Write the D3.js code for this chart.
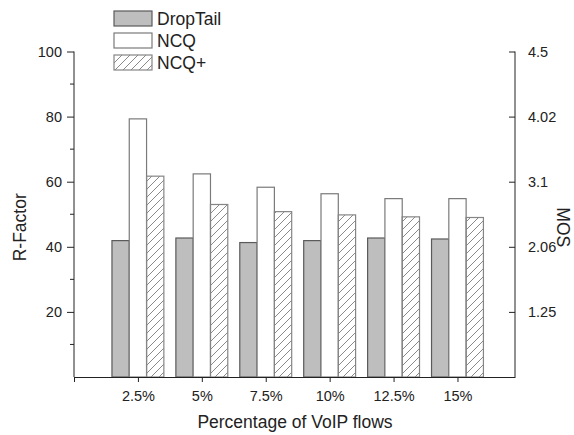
<!DOCTYPE html>
<html>
<head>
<meta charset="utf-8">
<script src="https://cdn.jsdelivr.net/npm/d3@7"></script>
<style>
  body { margin: 0; background: #fff; }
  svg { display: block; font-family: "Liberation Sans", Arial, sans-serif; }
  .axis path, .axis line { stroke: #222; }
  .axis text { font-size: 14.5px; fill: #222; }
</style>
</head>
<body>
<svg id="canvas" width="574" height="435"></svg>
<script>
let categories = ['2.5%', '5%', '7.5%', '10%', '12.5%', '15%'];
let seriesNames = ['DropTail', 'NCQ', 'NCQ+'];
let dropTail = [41.9, 42.7, 41.3, 41.9, 42.7, 42.4];
let ncq = [79.3, 62.4, 58.3, 56.3, 54.8, 54.8];
let ncqPlus = [61.7, 53.0, 50.8, 49.8, 49.2, 49.0];
let leftTicks = [20, 40, 60, 80, 100];
let leftMinor = [10, 30, 50, 70, 90];
let mosLabels = ['1.25', '2.06', '3.1', '4.02', '4.5'];

let svg = d3.select('#canvas');

// hatch for NCQ+
let defs = svg.append('defs');
defs.append('pattern')
    .attr('id', 'hatch')
    .attr('patternUnits', 'userSpaceOnUse')
    .attr('width', 8)
    .attr('height', 8)
    .append('path')
    .attr('d', 'M-2,2 L2,-2 M0,8 L8,0 M6,10 L10,6')
    .attr('stroke', '#8a8a8a')
    .attr('stroke-width', 1);

let x = d3.scaleLinear().domain([0, 6.9]).range([74, 515]);
let y = d3.scaleLinear().domain([0, 100]).range([377, 51.5]);

let barW = 17.3;
let styles = [
    { fill: '#bebebe', stroke: '#5a5a5a' },
    { fill: '#ffffff', stroke: '#7a7a7a' },
    { fill: 'url(#hatch)', stroke: '#858585' }
];
let series = [dropTail, ncq, ncqPlus];

series.forEach((vals, s) => {
    svg.append('g')
       .selectAll('rect')
       .data(vals)
       .enter()
       .append('rect')
       .attr('x', (d, i) => x(i + 1) + (s - 1.5) * barW)
       .attr('y', (d) => y(d))
       .attr('width', barW)
       .attr('height', (d) => y(0) - y(d))
       .attr('fill', styles[s].fill)
       .attr('stroke', styles[s].stroke)
       .attr('stroke-width', 1.2);
});

// x axis
let xAxis = d3.axisBottom(x)
    .tickValues([0, 1, 2, 3, 4, 5, 6])
    .tickFormat((d) => d === 0 ? '' : categories[d - 1])
    .tickSizeInner(5)
    .tickSizeOuter(0);
let gx = svg.append('g')
    .attr('class', 'axis')
    .attr('transform', 'translate(0,' + y(0) + ')')
    .call(xAxis);
gx.selectAll('text').attr('dy', '1.1em');

// left axis
let yAxis = d3.axisLeft(y)
    .tickValues(leftTicks)
    .tickSizeInner(7)
    .tickSizeOuter(0)
    .tickPadding(5);
svg.append('g')
   .attr('class', 'axis')
   .attr('transform', 'translate(' + x(0) + ',0)')
   .call(yAxis)
   .call((g) => g.select('.domain').attr('d', 'M0,' + y(0) + 'V' + y(100)));

svg.append('g')
   .selectAll('line')
   .data(leftMinor)
   .enter()
   .append('line')
   .attr('x1', x(0) - 4)
   .attr('x2', x(0))
   .attr('y1', (d) => y(d))
   .attr('y2', (d) => y(d))
   .attr('stroke', '#222');

// right axis (MOS labels at matching R-factor)
let yRight = d3.axisRight(y)
    .tickValues(leftTicks)
    .tickFormat((d, i) => mosLabels[i])
    .tickSizeInner(-6)
    .tickSizeOuter(0)
    .tickPadding(13);
svg.append('g')
   .attr('class', 'axis')
   .attr('transform', 'translate(' + x(6.9) + ',0)')
   .call(yRight)
   .call((g) => g.select('.domain').attr('d', 'M0,' + y(0) + 'V' + y(100)));

// axis titles
svg.append('text')
   .attr('transform', 'translate(26,' + y(46) + ') rotate(-90)')
   .attr('text-anchor', 'middle')
   .style('font-size', '17.5px')
   .attr('fill', '#222')
   .text('R-Factor');

svg.append('text')
   .attr('transform', 'translate(557,' + y(46) + ') rotate(90)')
   .attr('text-anchor', 'middle')
   .style('font-size', '17.5px')
   .attr('fill', '#222')
   .text('MOS');

svg.append('text')
   .attr('x', 295)
   .attr('y', 428)
   .attr('text-anchor', 'middle')
   .style('font-size', '17.5px')
   .attr('fill', '#222')
   .text('Percentage of VoIP flows');

// legend
let legend = svg.append('g')
    .selectAll('g')
    .data(seriesNames)
    .enter()
    .append('g')
    .attr('transform', (d, i) => 'translate(114,' + (11 + i * 22) + ')');

legend.append('rect')
      .attr('width', 38)
      .attr('height', 15)
      .attr('fill', (d, i) => styles[i].fill)
      .attr('stroke', (d, i) => styles[i].stroke)
      .attr('stroke-width', 1.2);

legend.append('text')
      .attr('x', 43)
      .attr('y', 14)
      .style('font-size', '17.5px')
      .attr('fill', '#222')
      .text((d) => d);
</script>
</body>
</html>
